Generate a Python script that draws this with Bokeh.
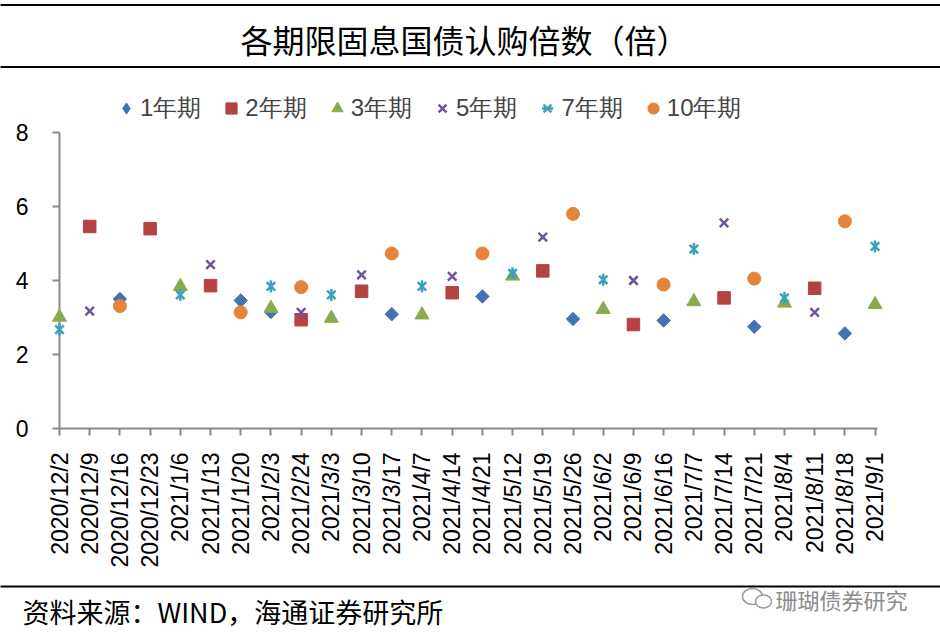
import numpy as np
from bokeh.plotting import figure
from bokeh.models import Range1d, FixedTicker, Legend, LegendItem
from bokeh.models import ColumnDataSource
from bokeh.core.properties import value
from bokeh.embed import file_html
from bokeh.resources import INLINE

# data (None = no issue of that tenor on that date)
dates = ["2020/12/2", "2020/12/9", "2020/12/16", "2020/12/23", "2021/1/6", "2021/1/13",
         "2021/1/20", "2021/2/3", "2021/2/24", "2021/3/3", "2021/3/10", "2021/3/17",
         "2021/4/7", "2021/4/14", "2021/4/21", "2021/5/12", "2021/5/19", "2021/5/26",
         "2021/6/2", "2021/6/9", "2021/6/16", "2021/7/7", "2021/7/14", "2021/7/21",
         "2021/8/4", "2021/8/11", "2021/8/18", "2021/9/1"]
N = None
bid_1y = [N, N, 3.50, N, N, N, 3.46, 3.15, N, N, N, 3.09, N, N,
          3.57, N, N, 2.96, N, N, 2.92, N, N, 2.75, N, N, 2.57, N]
bid_2y = [N, 5.46, N, 5.40, N, 3.86, N, N, 2.94, N, 3.71, N, N, 3.67,
          N, N, 4.26, N, N, 2.81, N, N, 3.53, N, N, 3.79, N, N]
bid_3y = [3.01, N, N, N, 3.84, N, N, 3.25, N, 2.98, N, N, 3.07, N,
          N, 4.12, N, N, 3.22, N, N, 3.43, N, N, 3.39, N, N, 3.35]
bid_5y = [N, 3.17, N, N, N, 4.43, N, N, 3.14, N, 4.15, N, N, 4.11,
          N, N, 5.17, N, N, 4.00, N, N, 5.56, N, N, 3.14, N, N]
bid_7y = [2.67, N, N, N, 3.61, N, N, 3.84, N, 3.61, N, N, 3.84, N,
          N, 4.19, N, N, 4.02, N, N, 4.85, N, N, 3.53, N, N, 4.92]
bid_10y = [N, N, 3.31, N, N, N, 3.14, N, 3.82, N, N, 4.73, N, N,
           4.73, N, N, 5.80, N, N, 3.89, N, N, 4.05, N, N, 5.60, N]
y_ticks = [0, 2, 4, 6, 8]

TITLE = "各期限固息国债认购倍数（倍）"
SOURCE = "资料来源：WIND，海通证券研究所"
WATERMARK = "珊瑚债券研究"

W, H = 940, 638
LATIN = "Liberation Sans"
CJK = "Noto Sans CJK SC"
AXIS_GREY = "#898989"
COLORS = {"1y": "#4473B5", "2y": "#B44341", "3y": "#8BAA4C",
          "5y": "#70549A", "7y": "#3DA1BE", "10y": "#E4843A"}

# frame geometry (pixels); the y range runs past 8 so the legend fits inside the frame
FRAME_LEFT, FRAME_RIGHT, FRAME_TOP, FRAME_BOTTOM = 59, 877, 84, 428
X_END = 27.08
Y_END = (FRAME_BOTTOM - FRAME_TOP) / 37.0
PX_X = (FRAME_RIGHT - FRAME_LEFT) / X_END
PX_Y = (FRAME_BOTTOM - FRAME_TOP) / Y_END


def at_x(px):
    return (px - FRAME_LEFT) / PX_X


def at_y(py):
    return (FRAME_BOTTOM - py) / PX_Y


xs = list(range(len(dates)))
src = ColumnDataSource(dict(
    x=xs,
    y1=np.array(bid_1y, dtype=float), y2=np.array(bid_2y, dtype=float),
    y3=np.array(bid_3y, dtype=float), y5=np.array(bid_5y, dtype=float),
    y7=np.array(bid_7y, dtype=float), y10=np.array(bid_10y, dtype=float),
))

p = figure(width=W, height=H, x_range=Range1d(0, X_END), y_range=Range1d(0, Y_END),
           toolbar_location=None, output_backend="svg", outline_line_color=None,
           min_border_left=FRAME_LEFT, min_border_right=W - FRAME_RIGHT,
           min_border_top=FRAME_TOP, min_border_bottom=H - FRAME_BOTTOM)
p.grid.visible = False

# the legend ignores marker angles, so the 1y key is a plain diamond drawn under
# the rotated squares that show the same points
key_1y = p.scatter("x", "y1", source=src, marker="diamond", size=12,
                   fill_color=COLORS["1y"], line_color=COLORS["1y"])
r1 = p.scatter("x", "y1", source=src, marker="square", angle=np.pi / 4, size=9.5,
               fill_color=COLORS["1y"], line_color=COLORS["1y"])
r2 = p.scatter("x", "y2", source=src, marker="square", size=12.5,
               fill_color=COLORS["2y"], line_color=COLORS["2y"])
r3 = p.scatter("x", "y3", source=src, marker="triangle", size=14,
               fill_color=COLORS["3y"], line_color=COLORS["3y"])
r5 = p.scatter("x", "y5", source=src, marker="x", size=12, line_width=2.5,
               line_color=COLORS["5y"])
r7a = p.scatter("x", "y7", source=src, marker="x", size=12, line_width=2.5,
                line_color=COLORS["7y"])
r7b = p.scatter("x", "y7", source=src, marker="dash", angle=np.pi / 2, size=12,
                line_width=2.5, line_color=COLORS["7y"])
r10 = p.scatter("x", "y10", source=src, marker="circle", size=13,
                fill_color=COLORS["10y"], line_color=COLORS["10y"])
for r in (key_1y, r1, r2, r3, r5, r7a, r7b, r10):
    r.level = "overlay"  # first date sits on the y axis, keep those markers unclipped

for ax in (p.xaxis, p.yaxis):
    ax.axis_line_color = AXIS_GREY
    ax.axis_line_width = 2
    ax.major_tick_line_color = AXIS_GREY
    ax.major_tick_line_width = 2
    ax.major_tick_in = 0
    ax.major_tick_out = 7
    ax.minor_tick_line_color = None
    ax.major_label_text_font = LATIN
    ax.major_label_text_font_size = "23px"
    ax.major_label_text_color = "black"

p.yaxis.ticker = FixedTicker(ticks=y_ticks)
p.yaxis.bounds = (0, 8)
p.yaxis.major_label_standoff = 24
p.xaxis.ticker = FixedTicker(ticks=xs)
p.xaxis.major_label_overrides = {i: d for i, d in enumerate(dates)}
p.xaxis.major_label_orientation = np.pi / 2
p.xaxis.major_label_standoff = 17

legend = Legend(items=[
    LegendItem(label="1年期", renderers=[key_1y]),
    LegendItem(label="2年期", renderers=[r2]),
    LegendItem(label="3年期", renderers=[r3]),
    LegendItem(label="5年期", renderers=[r5]),
    LegendItem(label="7年期", renderers=[r7a, r7b]),
    LegendItem(label="10年期", renderers=[r10]),
], location=(53, 304), orientation="horizontal", glyph_width=28, glyph_height=28,
    label_standoff=0, spacing=16, padding=0, margin=0, border_line_color=None,
    background_fill_alpha=0, label_text_font=LATIN, label_text_font_size="24px")
p.add_layout(legend)

# page decoration: rules, title, source note and watermark
rules = p.segment(x0=[at_x(0)] * 3, x1=[at_x(W)] * 3,
                  y0=[at_y(4.5), at_y(66.5), at_y(586)], y1=[at_y(4.5), at_y(66.5), at_y(586)],
                  line_color="black", line_width=2)
title = p.text(x=[at_x(464)], y=[at_y(38)], text=[TITLE], text_align="center",
               text_baseline="middle", text_font=value(CJK), text_font_size="32px",
               text_color="black")
source = p.text(x=[at_x(22)], y=[at_y(611)], text=[SOURCE], text_align="left",
                text_baseline="middle", text_font=value(CJK), text_font_size="27px",
                text_color="black")
icon = p.ellipse(x=[at_x(752), at_x(763)], y=[at_y(596), at_y(601)],
                 width=[20, 16], height=[16, 13], width_units="screen", height_units="screen",
                 fill_color="white", line_color="#999999", line_width=1.5)
mark = p.text(x=[at_x(775)], y=[at_y(598)], text=[WATERMARK], text_align="left",
              text_baseline="middle", text_font=value(CJK), text_font_size="22px",
              text_color="#8c8c8c")
for r in (rules, title, source, icon, mark):
    r.level = "overlay"

open("out.html", "w").write(file_html(p, INLINE))
